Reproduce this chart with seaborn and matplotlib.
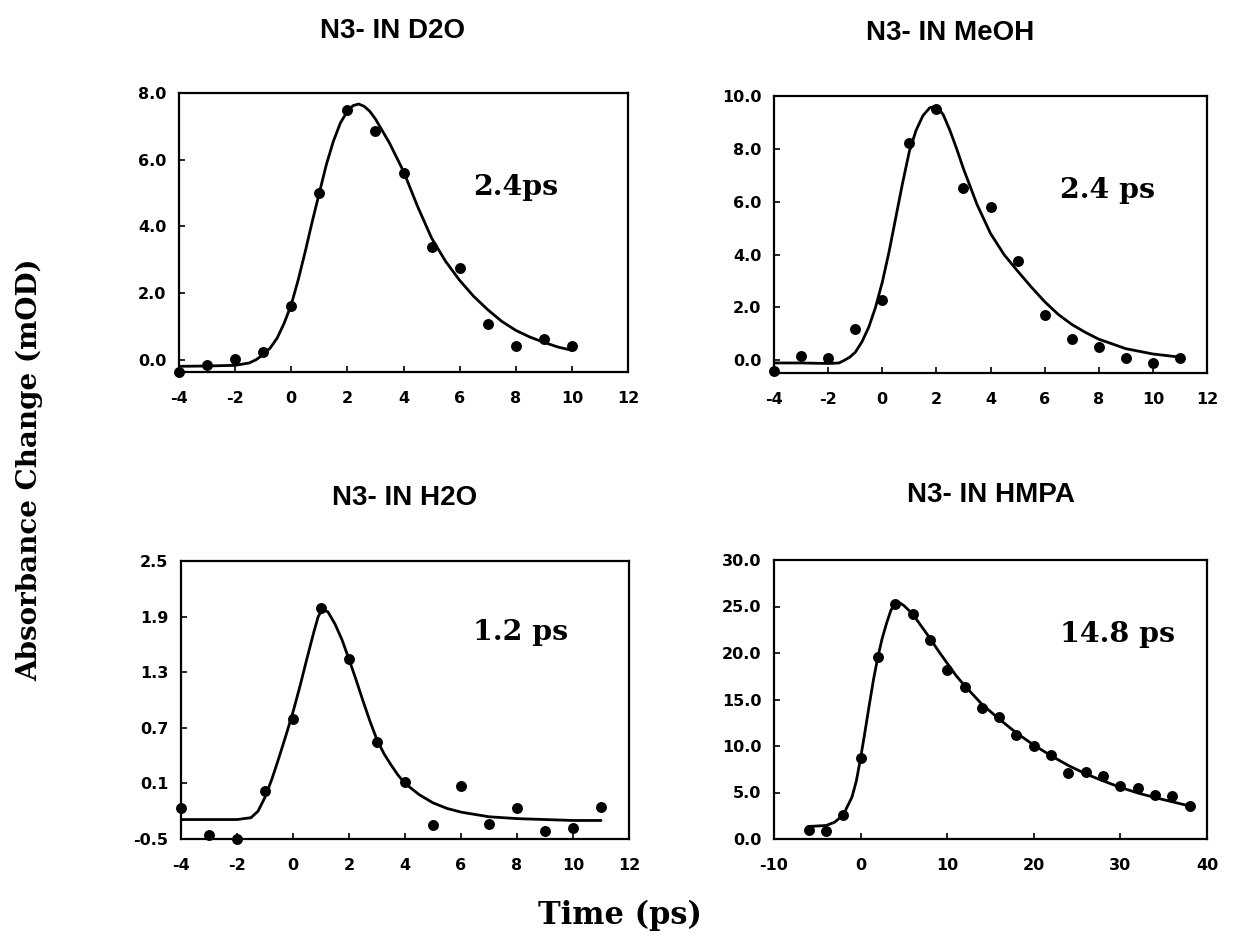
import numpy as np
import pandas as pd
import matplotlib
matplotlib.use("Agg")
import matplotlib.pyplot as plt
import seaborn as sns
from matplotlib.ticker import FormatStrFormatter

sns.set_theme(style="white")
plt.rcParams['font.family'] = ['DejaVu Sans']

# ---------------- data ----------------
titles = ["N3- IN D2O", "N3- IN MeOH", "N3- IN H2O", "N3- IN HMPA"]
lifetimes = ["2.4ps", "2.4 ps", "1.2 ps", "14.8 ps"]

d2o_t = [-4, -3, -2, -1, 0, 1, 2, 3, 4, 5, 6, 7, 8, 9, 10]
d2o_a = [-0.37, -0.15, 0.03, 0.22, 1.6, 5.0, 7.48, 6.86, 5.59, 3.39, 2.74, 1.08, 0.40, 0.62, 0.42]
d2o_fit_t = [-4, -3, -2, -1.5, -1.25, -1, -0.75, -0.5, -0.25, 0, 0.25, 0.5, 0.75, 1, 1.25, 1.5,
             1.75, 2, 2.2, 2.4, 2.6, 2.8, 3, 3.5, 4, 4.5, 5, 5.5, 6, 6.5, 7, 7.5, 8, 8.5, 9, 9.5, 10]
d2o_fit_a = [-0.2, -0.19, -0.17, -0.1, 0.0, 0.15, 0.35, 0.65, 1.1, 1.65, 2.4, 3.25, 4.15, 5.0, 5.85,
             6.55, 7.1, 7.45, 7.62, 7.67, 7.6, 7.45, 7.22, 6.5, 5.65, 4.6, 3.65, 2.95, 2.38, 1.9,
             1.5, 1.15, 0.88, 0.68, 0.52, 0.38, 0.28]

meoh_t = [-4, -3, -2, -1, 0, 1, 2, 3, 4, 5, 6, 7, 8, 9, 10, 11]
meoh_a = [-0.42, 0.17, 0.09, 1.2, 2.29, 8.24, 9.51, 6.52, 5.8, 3.75, 1.72, 0.8, 0.49, 0.07, -0.12, 0.09]
meoh_fit_t = [-4, -3, -2, -1.6, -1.4, -1.2, -1, -0.75, -0.5, -0.25, 0, 0.25, 0.5, 0.75, 1, 1.25,
              1.5, 1.75, 2, 2.25, 2.5, 2.75, 3, 3.5, 4, 4.5, 5, 5.5, 6, 6.5, 7, 7.5, 8, 9, 10, 11]
meoh_fit_a = [-0.1, -0.1, -0.12, -0.1, 0.0, 0.12, 0.3, 0.7, 1.25, 2.0, 2.95, 4.1, 5.4, 6.7, 7.9,
              8.7, 9.25, 9.55, 9.62, 9.3, 8.7, 8.0, 7.25, 5.9, 4.8, 4.0, 3.38, 2.78, 2.22, 1.74,
              1.36, 1.06, 0.8, 0.44, 0.24, 0.12]

h2o_t = [-4, -3, -2, -1, 0, 1, 2, 3, 4, 5, 6, 7, 8, 9, 10, 11]
h2o_a = [-0.17, -0.46, -0.50, 0.02, 0.79, 1.99, 1.44, 0.545, 0.11, -0.35, 0.07, -0.34, -0.17, -0.41, -0.38, -0.16]
h2o_fit_t = [-4, -3, -2, -1.5, -1.25, -1, -0.75, -0.5, -0.25, 0, 0.25, 0.5, 0.75, 0.9, 1.05, 1.25,
             1.5, 1.75, 2, 2.25, 2.5, 2.75, 3, 3.25, 3.5, 3.75, 4, 4.5, 5, 5.5, 6, 7, 8, 9, 10, 11]
h2o_fit_a = [-0.29, -0.29, -0.29, -0.27, -0.2, -0.05, 0.15, 0.38, 0.62, 0.87, 1.15, 1.45, 1.74,
             1.9, 1.98, 1.95, 1.82, 1.65, 1.44, 1.22, 0.99, 0.77, 0.57, 0.42, 0.3, 0.19, 0.1,
             -0.02, -0.11, -0.17, -0.21, -0.26, -0.28, -0.29, -0.3, -0.3]

hmpa_t = [-6, -4, -2, 0, 2, 4, 6, 8, 10, 12, 14, 16, 18, 20, 22, 24, 26, 28, 30, 32, 34, 36, 38]
hmpa_a = [0.93, 0.9, 2.56, 8.7, 19.6, 25.3, 24.2, 21.4, 18.2, 16.3, 14.1, 13.07, 11.2, 9.96, 9.07,
          7.12, 7.22, 6.76, 5.69, 5.44, 4.73, 4.66, 3.56]
hmpa_fit_t = [-6, -5, -4, -3, -2, -1, -0.5, 0, 0.5, 1, 1.5, 2, 2.5, 3, 3.5, 4, 4.5, 5, 6, 7, 8, 9,
              10, 11, 12, 14, 16, 18, 20, 22, 24, 26, 28, 30, 32, 34, 36, 38]
hmpa_fit_a = [1.35, 1.4, 1.45, 1.8, 2.6, 4.5, 6.2, 8.7, 11.5, 14.4, 17.2, 19.6, 21.6, 23.2, 24.6,
              25.35, 25.4, 25.1, 24.2, 22.9, 21.6, 20.2, 18.9, 17.6, 16.5, 14.5, 12.9, 11.4, 10.1,
              8.95, 7.9, 7.0, 6.25, 5.55, 4.95, 4.45, 4.0, 3.55]

xticks_short = [-4, -2, 0, 2, 4, 6, 8, 10, 12]
xticks_long = [-10, 0, 10, 20, 30, 40]
yticks_d2o = [0.0, 2.0, 4.0, 6.0, 8.0]
yticks_meoh = [0.0, 2.0, 4.0, 6.0, 8.0, 10.0]
yticks_h2o = [-0.5, 0.1, 0.7, 1.3, 1.9, 2.5]
yticks_hmpa = [0.0, 5.0, 10.0, 15.0, 20.0, 25.0, 30.0]

# ---------------- figure ----------------
W, H = 1235, 943
fig = plt.figure(figsize=(W / 100, H / 100), dpi=100)


def px_axes(left, top, right, bottom):
    return fig.add_axes([left / W, 1 - bottom / H, (right - left) / W, (bottom - top) / H])


panels = [
    dict(box=(179, 93, 628, 372), pts=(d2o_t, d2o_a), fit=(d2o_fit_t, d2o_fit_a),
         xlim=(-4, 12), ylim=(-0.37, 8.0), xt=xticks_short, yt=yticks_d2o,
         ann=(0.655, 0.634), title_xy=(392, 31)),
    dict(box=(774, 96, 1207, 373), pts=(meoh_t, meoh_a), fit=(meoh_fit_t, meoh_fit_a),
         xlim=(-4, 12), ylim=(-0.48, 10.0), xt=xticks_short, yt=yticks_meoh,
         ann=(0.66, 0.632), title_xy=(950, 33)),
    dict(box=(181, 561, 629, 839), pts=(h2o_t, h2o_a), fit=(h2o_fit_t, h2o_fit_a),
         xlim=(-4, 12), ylim=(-0.5, 2.5), xt=xticks_short, yt=yticks_h2o,
         ann=(0.651, 0.716), title_xy=(405, 498)),
    dict(box=(774, 560, 1207, 839), pts=(hmpa_t, hmpa_a), fit=(hmpa_fit_t, hmpa_fit_a),
         xlim=(-10, 40), ylim=(0.0, 30.0), xt=xticks_long, yt=yticks_hmpa,
         ann=(0.66, 0.706), title_xy=(991, 495)),
]

for i, p in enumerate(panels):
    ax = px_axes(*p['box'])
    ax.set_facecolor('white')
    fx, fy = p['fit']
    sns.lineplot(x=fx, y=fy, ax=ax, color='black', linewidth=2.0, sort=False, estimator=None,
                 zorder=2)
    px_, py_ = p['pts']
    sns.scatterplot(x=px_, y=py_, ax=ax, color='black', s=62, edgecolor='black', linewidth=0,
                    zorder=3, clip_on=False)
    ax.set_xlim(*p['xlim'])
    ax.set_ylim(*p['ylim'])
    ax.set_xticks(p['xt'])
    ax.set_yticks(p['yt'])
    ax.yaxis.set_major_formatter(FormatStrFormatter('%.1f'))
    ax.xaxis.set_major_formatter(FormatStrFormatter('%d'))
    ax.tick_params(axis='both', direction='in', length=4, width=1.2, colors='black',
                   labelsize=11.5, left=True, bottom=True)
    ax.tick_params(axis='x', pad=14)
    ax.tick_params(axis='y', pad=9)
    for lab in ax.get_xticklabels() + ax.get_yticklabels():
        lab.set_fontweight('bold')
    for sp in ax.spines.values():
        sp.set_visible(True)
        sp.set_color('black')
        sp.set_linewidth(1.6)
    ax.set_xlabel('')
    ax.set_ylabel('')
    ax.grid(False)
    ax.text(p['ann'][0], p['ann'][1], lifetimes[i], transform=ax.transAxes,
            fontfamily='DejaVu Serif', fontweight='bold', fontsize=20.5,
            ha='left', va='baseline', color='black')
    tx, ty = p['title_xy']
    fig.text(tx / W, 1 - ty / H, titles[i], fontfamily='Liberation Sans', fontweight='bold',
             fontsize=20, ha='center', va='center', color='black')

fig.text(620 / W, 1 - 915 / H, "Time (ps)", fontfamily='DejaVu Serif', fontweight='bold',
         fontsize=22, ha='center', va='center', color='black')
fig.text(30 / W, 1 - 470 / H, "Absorbance Change (mOD)", fontfamily='DejaVu Serif',
         fontweight='bold', fontsize=20, ha='center', va='center', rotation=90, color='black')

fig.savefig("out.png", dpi=100, facecolor='white')
